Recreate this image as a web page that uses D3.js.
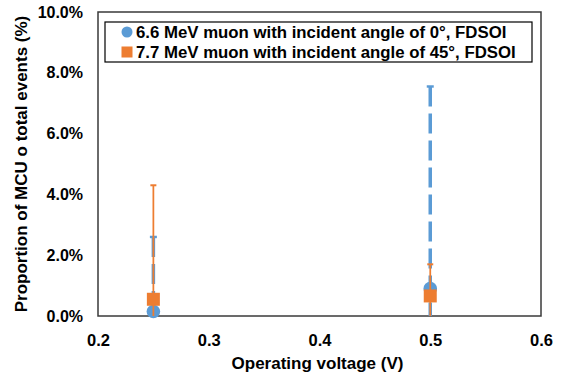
<!DOCTYPE html>
<html>
<head>
<meta charset="utf-8">
<script src="https://cdn.jsdelivr.net/npm/d3@7"></script>
<style>
  body { margin: 0; background: #fff; }
  text { font-family: "Liberation Sans", Arial, sans-serif; font-weight: bold; fill: #000; }
</style>
</head>
<body>
<svg id="chart"></svg>
<script>
// data
const seriesNames = [
  "6.6 MeV muon with incident angle of 0°, FDSOI",
  "7.7 MeV muon with incident angle of 45°, FDSOI"
];
const voltages = [0.25, 0.5];
const muon0Values = [0.0015, 0.009];
const muon0Upper = [0.026, 0.0755];
const muon0Lower = [0, 0];
const muon45Values = [0.0055, 0.0066];
const muon45Upper = [0.043, 0.017];
const muon45Lower = [0, 0];
const xTicks = [0.2, 0.3, 0.4, 0.5, 0.6];
const yTicks = [0, 0.02, 0.04, 0.06, 0.08, 0.1];

const config = {
  width: 564,
  height: 377,
  margin: { top: 12, right: 23, bottom: 61, left: 98 }
};

const svg = d3.select("#chart")
    .attr("width", config.width)
    .attr("height", config.height);

const width = config.width - config.margin.left - config.margin.right;
const height = config.height - config.margin.top - config.margin.bottom;

const chart = svg.append("g")
    .attr("transform", `translate(${config.margin.left},${config.margin.top})`);

const xScale = d3.scaleLinear().domain([0.2, 0.6]).range([0, width]);
const yScale = d3.scaleLinear().domain([0, 0.1]).range([height, 0]);

// axes (labels only, no tick marks)
const xAxis = d3.axisBottom(xScale).tickValues(xTicks).tickSize(0).tickPadding(18)
    .tickFormat(d3.format(".1f"));
const yAxis = d3.axisLeft(yScale).tickValues(yTicks).tickSize(0).tickPadding(15)
    .tickFormat(d3.format(".1%"));

chart.append("g")
    .attr("transform", `translate(0,${height})`)
    .call(xAxis)
    .call(g => g.select(".domain").remove())
    .selectAll("text")
      .style("font-size", "16.5px")
      .style("font-family", "Liberation Sans, Arial, sans-serif")
      .style("font-weight", "bold")
      .attr("fill", "#000");

chart.append("g")
    .call(yAxis)
    .call(g => g.select(".domain").remove())
    .selectAll("text")
      .style("font-size", "16px")
      .style("font-family", "Liberation Sans, Arial, sans-serif")
      .style("font-weight", "bold")
      .attr("fill", "#000");

// plot frame
chart.append("rect")
    .attr("x", 0).attr("y", 0)
    .attr("width", width).attr("height", height)
    .attr("fill", "none")
    .attr("stroke", "#3a3a3a")
    .attr("stroke-width", 1.5);

const series = [
  { values: muon0Values, upper: muon0Upper, lower: muon0Lower, color: "#5B9BD5",
    lineWidth: 3.5, dash: "20,7", cap: 7, shape: "circle" },
  { values: muon45Values, upper: muon45Upper, lower: muon45Lower, color: "#ED7D31",
    lineWidth: 1.75, dash: null, cap: 6, shape: "square" }
];

series.forEach(s => {
  const pts = voltages.map((v, i) => ({ x: v, y: s.values[i], hi: s.upper[i], lo: s.lower[i] }));
  const g = chart.append("g");

  // error bars
  g.selectAll("line.err")
    .data(pts)
    .join("line")
      .attr("x1", d => xScale(d.x)).attr("x2", d => xScale(d.x))
      .attr("y1", d => yScale(d.hi)).attr("y2", d => yScale(d.lo))
      .attr("stroke", s.color)
      .attr("stroke-width", s.lineWidth)
      .attr("stroke-dasharray", s.dash);

  g.selectAll("line.cap")
    .data(pts)
    .join("line")
      .attr("x1", d => xScale(d.x) - s.cap / 2).attr("x2", d => xScale(d.x) + s.cap / 2)
      .attr("y1", d => yScale(d.hi)).attr("y2", d => yScale(d.hi))
      .attr("stroke", s.color)
      .attr("stroke-width", Math.max(2, s.lineWidth * 0.7));

  // markers
  if (s.shape == "circle") {
    g.selectAll("circle")
      .data(pts)
      .join("circle")
        .attr("cx", d => xScale(d.x))
        .attr("cy", d => yScale(d.y))
        .attr("r", 6.8)
        .attr("fill", s.color);
  } else {
    g.selectAll("rect")
      .data(pts)
      .join("rect")
        .attr("x", d => xScale(d.x) - 6.5)
        .attr("y", d => yScale(d.y) - 6.5)
        .attr("width", 13).attr("height", 13)
        .attr("fill", s.color);
  }
});

// legend
const legend = chart.append("g").attr("transform", "translate(7,10)");
legend.append("rect")
    .attr("width", 427).attr("height", 40)
    .attr("fill", "#fff")
    .attr("stroke", "#000")
    .attr("stroke-width", 1.2);

seriesNames.forEach((name, i) => {
  const row = legend.append("g").attr("transform", `translate(0,${10 + i * 20})`);
  if (i == 0) {
    row.append("circle").attr("cx", 22).attr("cy", 0).attr("r", 5.5).attr("fill", series[i].color);
  } else {
    row.append("rect").attr("x", 16.5).attr("y", -5.5).attr("width", 11).attr("height", 11)
      .attr("fill", series[i].color);
  }
  row.append("text")
    .attr("x", 31).attr("y", 0)
    .attr("dy", "0.35em")
    .style("font-size", "16.8px")
    .text(name);
});

// axis titles
svg.append("text")
    .attr("x", config.margin.left + width / 2 - 2)
    .attr("y", 369)
    .attr("text-anchor", "middle")
    .style("font-size", "17px")
    .text("Operating voltage (V)");

svg.append("text")
    .attr("transform", `translate(27,${config.margin.top + height / 2}) rotate(-90)`)
    .attr("text-anchor", "middle")
    .style("font-size", "17px")
    .text("Proportion of MCU o total events (%)");
</script>
</body>
</html>
